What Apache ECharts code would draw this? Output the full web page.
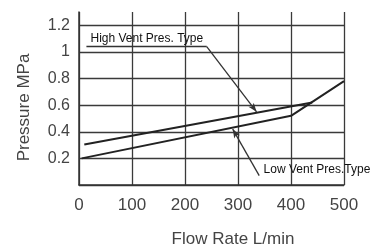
<!DOCTYPE html>
<html>
<head>
<meta charset="utf-8">
<script src="https://cdn.jsdelivr.net/npm/echarts@6/dist/echarts.min.js"></script>
<style>
html,body{margin:0;padding:0;background:#fff;}
#chart{width:370px;height:246px;}
</style>
</head>
<body>
<div id="chart"></div>
<script>
// Data (Flow Rate L/min, Pressure MPa)
var highVent = [[10, 0.305], [440, 0.62]];
var lowVent = [[5, 0.2], [400, 0.52], [500, 0.78]];
var xTicks = [0, 100, 200, 300, 400, 500];
var yTicks = [0.2, 0.4, 0.6, 0.8, 1, 1.2];
var highLabel = 'High Vent Pres. Type';
var lowLabel = 'Low Vent Pres.Type';
// annotation anchor points in data units
var highUnderline = [[14, 1.04], [241, 1.04]];
var highLeader = [[241, 1.04], [335, 0.55]];
var highTextAt = [128, 1.103];
var lowUnderline = [[340, 0.07], [552, 0.07]];
var lowLeader = [[340, 0.07], [290, 0.42]];
var lowTextAt = [449, 0.118];

var FONT = '"Liberation Sans", Arial, sans-serif';
var chart = echarts.init(document.getElementById('chart'), null, {renderer: 'canvas'});

function seg(pts, arrow) {
  return [{coord: pts[0], symbol: 'none'}, {coord: pts[1], symbol: arrow ? 'arrow' : 'none', symbolSize: arrow ? [5, 9] : 0}];
}

chart.setOption({
  animation: false,
  backgroundColor: '#fff',
  grid: {left: 79, right: 26, top: 12, bottom: 61, containLabel: false, outerBoundsMode: 'none'},
  xAxis: {
    type: 'value', min: 0, max: 500, interval: 100,
    axisLine: {show: true, lineStyle: {color: '#333', width: 1.5}},
    axisTick: {show: false},
    splitLine: {show: true, lineStyle: {color: '#3a3a3a', width: 1.3}},
    axisLabel: {color: '#444', fontFamily: FONT, fontSize: 17, margin: 12,
      formatter: function (v) { return xTicks.indexOf(v) >= 0 ? String(v) : ''; }},
    name: 'Flow Rate L/min', nameLocation: 'middle', nameGap: 46,
    nameTextStyle: {color: '#444', fontFamily: FONT, fontSize: 17, padding: [0, 0, 0, 43]}
  },
  yAxis: {
    type: 'value', min: 0, max: 1.3, interval: 0.2,
    axisLine: {show: true, lineStyle: {color: '#333', width: 1.5}},
    axisTick: {show: false},
    splitLine: {show: true, showMaxLine: false, lineStyle: {color: '#3a3a3a', width: 1.3}},
    axisLabel: {color: '#444', fontFamily: FONT, fontSize: 16, margin: 9, showMinLabel: false, showMaxLabel: false,
      formatter: function (v) { return yTicks.indexOf(Math.round(v * 10) / 10) >= 0 ? String(Math.round(v * 10) / 10) : ''; }},
    name: 'Pressure MPa', nameLocation: 'middle', nameGap: 46, nameRotate: 90,
    nameTextStyle: {color: '#444', fontFamily: FONT, fontSize: 17, padding: [0, 18, 0, 0]}
  },
  series: [
    {
      type: 'line', data: highVent, symbol: 'none', clip: false,
      lineStyle: {color: '#222', width: 2},
      markLine: {
        silent: true, animation: false,
        lineStyle: {color: '#333', width: 1.3, type: 'solid'},
        label: {show: false},
        data: [seg(highUnderline, false), seg(highLeader, true), seg(lowUnderline, false), seg(lowLeader, true)]
      },
      markPoint: {
        silent: true, symbol: 'circle', symbolSize: 0,
        data: [
          {coord: highTextAt, value: highLabel, label: {show: true, position: 'inside', formatter: highLabel, color: '#111', fontFamily: FONT, fontSize: 12}},
          {coord: lowTextAt, value: lowLabel, label: {show: true, position: 'inside', formatter: lowLabel, color: '#111', fontFamily: FONT, fontSize: 12}}
        ]
      }
    },
    {
      type: 'line', data: lowVent, symbol: 'none', clip: false,
      lineStyle: {color: '#222', width: 2}
    }
  ]
});
</script>
</body>
</html>
